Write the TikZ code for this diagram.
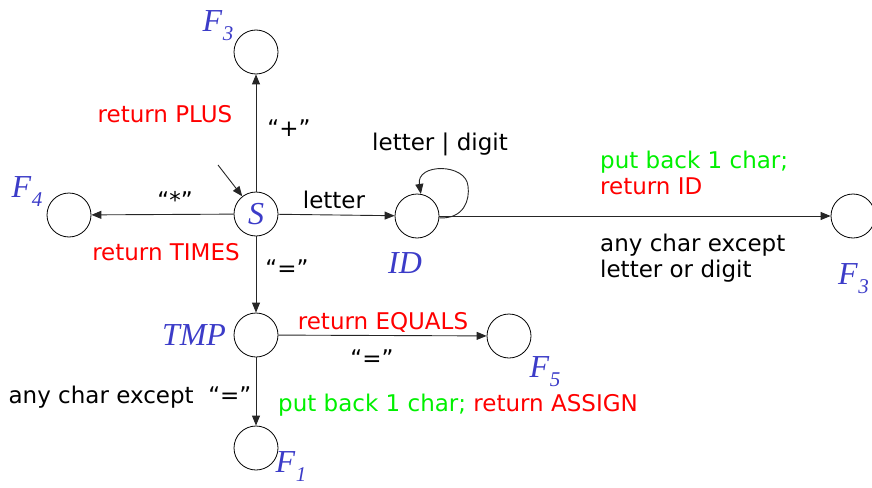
\documentclass[tikz,border=0pt]{standalone}
\usepackage{fontspec}
\setmainfont{DejaVu Sans}
\newfontfamily\tms{Liberation Serif}
\usetikzlibrary{arrows.meta}
\definecolor{stblue}{RGB}{60,60,200}
\definecolor{lblred}{RGB}{255,0,0}
\definecolor{lblgreen}{RGB}{0,240,0}
\newcommand\Fsub[1]{F\kern0.5pt\raisebox{-9pt}{\fontsize{21}{21}\selectfont #1}}
\begin{document}
\begin{tikzpicture}[x=1pt,y=-1pt,
  state/.style={circle,draw=black,line width=0.8pt,minimum size=44pt,inner sep=0pt},
  edgearrow/.style={draw=black!85,line width=0.9pt,-{Triangle[length=10pt,width=8pt]}},
  lbl/.style={font=\fontsize{23}{26}\selectfont,inner sep=0pt},
  rlbl/.style={lbl,text=lblred},
  glbl/.style={lbl,text=lblgreen},
  sname/.style={font=\tms\itshape\fontsize{32}{36}\selectfont,text=stblue,inner sep=0pt}
]
\useasboundingbox (0,0) rectangle (872,487);
% states
\node[state] (F3a) at (256,52) {};
\node[state,sname] (S) at (256,214) {S};
\node[state] (F4) at (69,215) {};
\node[state] (ID) at (417,216) {};
\node[state] (F3b) at (853,216) {};
\node[state] (TMP) at (256,335) {};
\node[state] (F1) at (256,448) {};
\node[state] (F5) at (509,336) {};
% state names
\node[sname] (nF3a) at (218,26) {\Fsub{3}};
\node[sname] (nF4) at (27,192) {\Fsub{4}};
\node[sname,anchor=west] (nF3b) at (838,279) {\Fsub{3}};
\node[sname] (nF5) at (545,372) {\Fsub{5}};
\node[sname] (nF1) at (291,467) {\Fsub{1}};
\node[sname] (nID) at (405,263) {ID};
\node[sname] (nTMP) at (194,335) {TMP};
% start arrow
\coordinate (start) at (218,165);
\draw[edgearrow] (start) -- (S);
% transitions
\draw[edgearrow] (S) -- (F3a);
\draw[edgearrow] (S) -- (F4);
\draw[edgearrow] (S) -- (ID);
\draw[edgearrow] (S) -- (TMP);
\draw[edgearrow] (TMP) -- (F1);
\draw[edgearrow] (TMP) -- (F5);
\draw[edgearrow] (ID.east) -- (F3b);
\draw[edgearrow] (ID.-5) .. controls (464,219) and (470,200) .. (468,186)
   .. controls (466,163) and (416,163) .. (ID.80);
% labels
\node[rlbl] (lPlus) at (165,114) {return PLUS};
\node[lbl] (qPlus) at (289,128) {“+”};
\node[lbl] (lLD) at (440,144) {letter | digit};
\node[lbl] (qStar) at (175,200) {“*”};
\node[lbl] (lLetter) at (334,200) {letter};
\node[rlbl] (lTimes) at (166,252) {return TIMES};
\node[lbl] (qEq) at (287,268) {“=”};
\node[lbl,anchor=west,align=left] (lRetID) at (600,173) {\textcolor{lblgreen}{put back 1 char;}\\\textcolor{lblred}{return ID}};
\node[lbl,anchor=west,align=left] (lAny) at (600,258) {any char except\\letter or digit};
\node[rlbl] (lEquals) at (383,322) {return EQUALS};
\node[lbl] (qEq2) at (372,358) {“=”};
\node[lbl] (lAssign) at (458,405) {\textcolor{lblgreen}{put back 1 char;} \textcolor{lblred}{return ASSIGN}};
\node[lbl] (lAnyEq) at (130,397) {any char except\ \ “=”};
\end{tikzpicture}
\end{document}
